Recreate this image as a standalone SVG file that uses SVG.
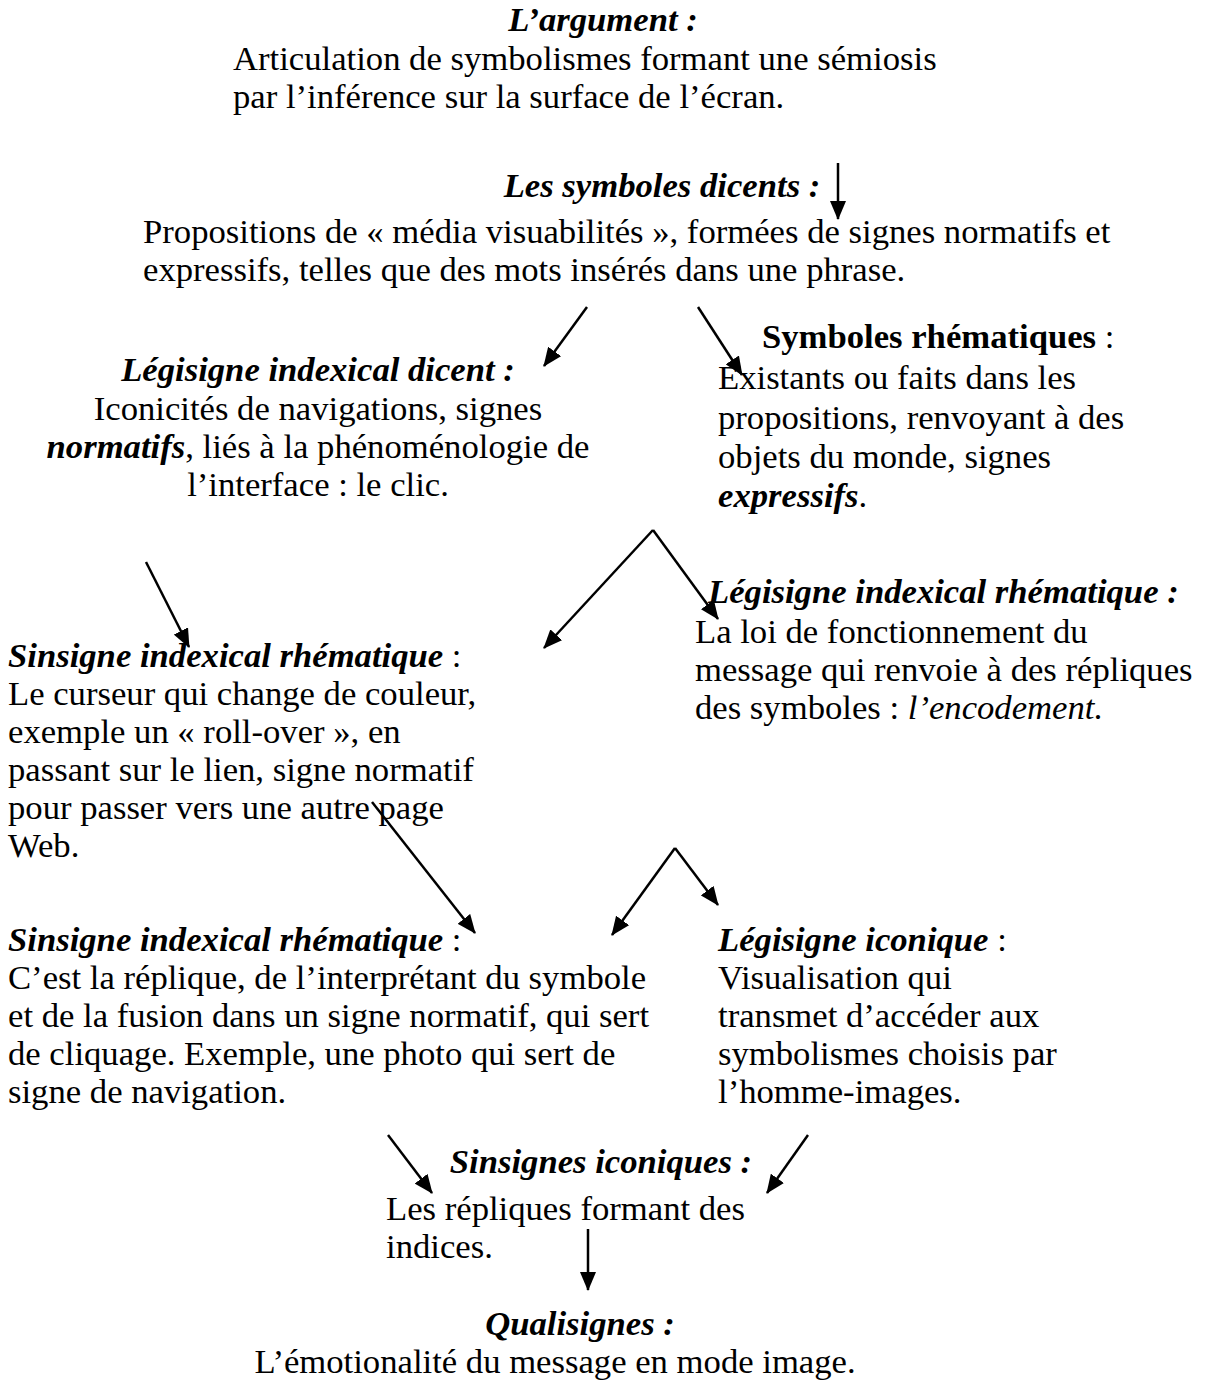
<svg xmlns="http://www.w3.org/2000/svg" width="1206" height="1382" viewBox="0 0 1206 1382">
<style>
text{font-family:"Liberation Serif","Times New Roman",serif;font-size:34.67px;fill:#000}
.bi{font-weight:bold;font-style:italic}
.b{font-weight:bold}
.i{font-style:italic}
.c{text-anchor:middle}
.ln{stroke:#000;stroke-width:2.5;fill:none;marker-end:url(#ah)}
</style>
<defs>
<marker id="ah" markerUnits="userSpaceOnUse" markerWidth="20" markerHeight="16" refX="18" refY="8" orient="auto">
<path d="M0,0 L19,8 L0,16 Z" fill="#000"/>
</marker>
</defs>
<rect width="1206" height="1382" fill="#fff"/>
<g id="argument">
<text x="603" y="31" class="c bi">L’argument :</text>
<text x="233" y="70">Articulation de symbolismes formant une sémiosis</text>
<text x="233" y="108">par l’inférence sur la surface de l’écran.</text>
</g>
<g id="dicents">
<text x="662" y="197" class="c bi">Les symboles dicents :</text>
<text x="143" y="243">Propositions de « média visuabilités », formées de signes normatifs et</text>
<text x="143" y="281">expressifs, telles que des mots insérés dans une phrase.</text>
</g>
<g id="legisigne-indexical-dicent">
<text x="318" y="381" class="c bi">Légisigne indexical dicent :</text>
<text x="318" y="420" class="c">Iconicités de navigations, signes</text>
<text x="318" y="458" class="c"><tspan class="bi">normatifs</tspan>, liés à la phénoménologie de</text>
<text x="318" y="496" class="c">l’interface : le clic.</text>
</g>
<g id="symboles-rhematiques">
<text x="762" y="348"><tspan class="b">Symboles rhématiques</tspan> :</text>
<text x="718" y="389">Existants ou faits dans les</text>
<text x="718" y="429">propositions, renvoyant à des</text>
<text x="718" y="468">objets du monde, signes</text>
<text x="718" y="507"><tspan class="bi">expressifs</tspan>.</text>
</g>
<g id="legisigne-indexical-rhematique">
<text x="708" y="603" class="bi">Légisigne indexical rhématique :</text>
<text x="695" y="643">La loi de fonctionnement du</text>
<text x="695" y="681">message qui renvoie à des répliques</text>
<text x="695" y="719">des symboles : <tspan class="i">l’encodement.</tspan></text>
</g>
<g id="sinsigne-indexical-rhematique-1">
<text x="8" y="667"><tspan class="bi">Sinsigne indexical rhématique</tspan> :</text>
<text x="8" y="705">Le curseur qui change de couleur,</text>
<text x="8" y="743">exemple un « roll-over », en</text>
<text x="8" y="781">passant sur le lien, signe normatif</text>
<text x="8" y="819">pour passer vers une autre page</text>
<text x="8" y="857">Web.</text>
</g>
<g id="sinsigne-indexical-rhematique-2">
<text x="8" y="951"><tspan class="bi">Sinsigne indexical rhématique</tspan> :</text>
<text x="8" y="989">C’est la réplique, de l’interprétant du symbole</text>
<text x="8" y="1027">et de la fusion dans un signe normatif, qui sert</text>
<text x="8" y="1065">de cliquage. Exemple, une photo qui sert de</text>
<text x="8" y="1103">signe de navigation.</text>
</g>
<g id="legisigne-iconique">
<text x="718" y="951"><tspan class="bi">Légisigne iconique</tspan> :</text>
<text x="718" y="989">Visualisation qui</text>
<text x="718" y="1027">transmet d’accéder aux</text>
<text x="718" y="1065">symbolismes choisis par</text>
<text x="718" y="1103">l’homme-images.</text>
</g>
<g id="sinsignes-iconiques">
<text x="601" y="1173" class="c bi">Sinsignes iconiques :</text>
<text x="386" y="1220">Les répliques formant des</text>
<text x="386" y="1258">indices.</text>
</g>
<g id="qualisignes">
<text x="580" y="1335" class="c bi">Qualisignes :</text>
<text x="555" y="1373" class="c">L’émotionalité du message en mode image.</text>
</g>
<g id="connectors">
<line class="ln" x1="838" y1="163" x2="838" y2="219"/>
<line class="ln" x1="587" y1="307" x2="544" y2="366"/>
<line class="ln" x1="698" y1="307" x2="742" y2="375"/>
<line class="ln" x1="146" y1="562" x2="189" y2="647"/>
<line class="ln" x1="653" y1="530" x2="544" y2="648"/>
<line class="ln" x1="653" y1="530" x2="718" y2="619"/>
<line class="ln" x1="372" y1="802" x2="475" y2="933"/>
<line class="ln" x1="675" y1="848" x2="612" y2="935"/>
<line class="ln" x1="675" y1="848" x2="718" y2="905"/>
<line class="ln" x1="388" y1="1135" x2="432" y2="1193"/>
<line class="ln" x1="808" y1="1135" x2="767" y2="1193"/>
<line class="ln" x1="588" y1="1229" x2="588" y2="1290"/>
</g>
</svg>
